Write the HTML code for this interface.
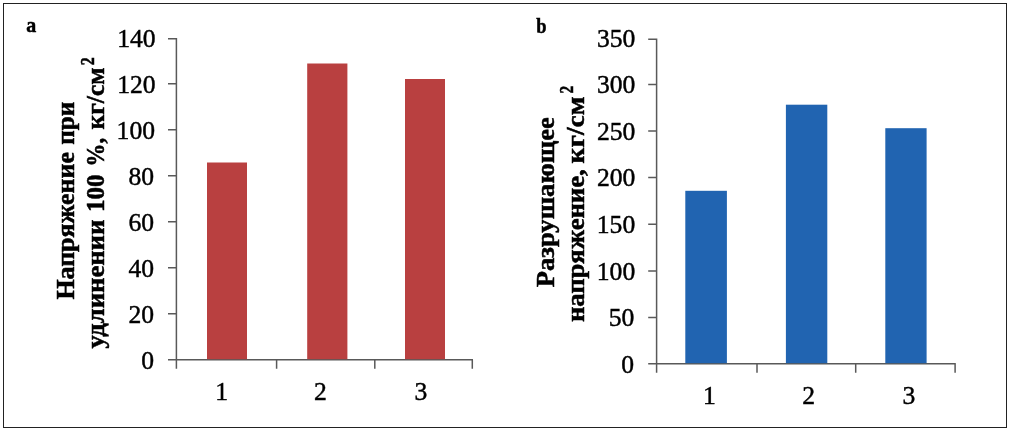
<!DOCTYPE html>
<html lang="ru">
<head>
<meta charset="utf-8">
<title>Charts</title>
<style>
html,body{margin:0;padding:0;background:#fff;}
body{width:1010px;height:431px;overflow:hidden;position:relative;}
svg{position:absolute;left:0;top:0;display:block;}
text{font-family:"Liberation Serif",serif;fill:#000;}
.n{font-size:25.6px;stroke:#000;stroke-width:0.45px;}
.b{font-weight:bold;stroke:#000;stroke-width:0.5px;}
</style>
</head>
<body>
<svg width="1010" height="431" viewBox="0 0 1010 431">
<rect x="0" y="0" width="1010" height="431" fill="#fff"/>
<rect x="3.5" y="3.5" width="1003" height="424" fill="none" stroke="#222" stroke-width="1"/>
<text class="b" font-size="21" transform="translate(26.3 32.4) scale(0.95 1)">a</text>
<text class="b" font-size="21" transform="translate(536.3 33.3) scale(0.88 1)">b</text>
<path d="M176.4 38.10 V368.80 M168.00 359.8 H473.00 M168.00 38.80 H176.4 M168.00 83.80 H176.4 M168.00 129.80 H176.4 M168.00 175.80 H176.4 M168.00 221.80 H176.4 M168.00 267.80 H176.4 M168.00 313.80 H176.4 M276.6 359.8 V368.80 M374.8 359.8 V368.80 M472.3 359.8 V368.80" stroke="#595959" stroke-width="1.5" fill="none"/>
<rect x="207" y="162.5" width="40.00" height="196.70" fill="#b94040"/>
<rect x="307.2" y="63.5" width="40.20" height="295.70" fill="#b94040"/>
<rect x="405" y="79" width="40.00" height="280.20" fill="#b94040"/>
<g class="n" text-anchor="end">
<text x="155.6" y="46.50">140</text>
<text x="155.6" y="92.58">120</text>
<text x="155.0" y="138.66">100</text>
<text x="154.0" y="184.74">80</text>
<text x="154.0" y="230.82">60</text>
<text x="154.0" y="276.90">40</text>
<text x="154.0" y="322.98">20</text>
<text x="154.0" y="369.06">0</text>
</g>
<g class="n" text-anchor="middle">
<text x="221.7" y="400">1</text>
<text x="320.3" y="400">2</text>
<text x="420.8" y="400">3</text>
</g>
<path d="M656.6 38.50 V372.80 M648.20 363.8 H955.80 M648.20 39.20 H656.6 M648.20 84.40 H656.6 M648.20 130.90 H656.6 M648.20 177.50 H656.6 M648.20 224.20 H656.6 M648.20 270.90 H656.6 M648.20 317.50 H656.6 M757.0 363.8 V372.80 M855.7 363.8 V372.80 M955.1 363.8 V372.80" stroke="#595959" stroke-width="1.5" fill="none"/>
<rect x="685.3" y="190.8" width="41.60" height="172.40" fill="#2164b1"/>
<rect x="785.9" y="104.7" width="41.40" height="258.50" fill="#2164b1"/>
<rect x="885.3" y="128.2" width="41.30" height="235.00" fill="#2164b1"/>
<g class="n" text-anchor="end">
<text x="635.4" y="46.50">350</text>
<text x="635.4" y="93.10">300</text>
<text x="635.4" y="139.70">250</text>
<text x="635.4" y="186.30">200</text>
<text x="635.2" y="232.90">150</text>
<text x="635.2" y="279.50">100</text>
<text x="634.4" y="326.10">50</text>
<text x="634.0" y="372.70">0</text>
</g>
<g class="n" text-anchor="middle">
<text x="709.4" y="403.8">1</text>
<text x="808.7" y="403.8">2</text>
<text x="909" y="403.8">3</text>
</g>
<text class="b" font-size="24.8" transform="translate(73.70 299.60) rotate(-90) scale(1.0462 1)">Напряжение</text>
<text class="b" font-size="24.8" transform="translate(73.70 144.70) rotate(-90) scale(1.0124 1)">при</text>
<text class="b" font-size="24.8" transform="translate(104.00 348.40) rotate(-90) scale(1.0750 1)">удлинении</text>
<text class="b" font-size="24.8" transform="translate(104.00 212.01) rotate(-90) scale(1.0057 1)">100</text>
<text class="b" font-size="24.8" transform="translate(104.00 166.44) rotate(-90) scale(0.9202 1)">%,</text>
<text class="b" font-size="24.8" transform="translate(104.00 129.40) rotate(-90) scale(1.0274 1)">кг/см</text>
<text class="b" font-size="18" transform="translate(94.20 65.30) rotate(-90) scale(0.8889 1)">2</text>
<text class="b" font-size="24.8" transform="translate(553.50 287.30) rotate(-90) scale(1.0725 1)">Разрушающее</text>
<text class="b" font-size="24.8" transform="translate(584.40 322.10) rotate(-90) scale(1.0740 1)">напряжение,</text>
<text class="b" font-size="24.8" transform="translate(584.00 163.50) rotate(-90) scale(1.1118 1)">кг/см</text>
<text class="b" font-size="18" transform="translate(573.00 93.60) rotate(-90) scale(0.8556 1)">2</text>
</svg>
</body>
</html>
